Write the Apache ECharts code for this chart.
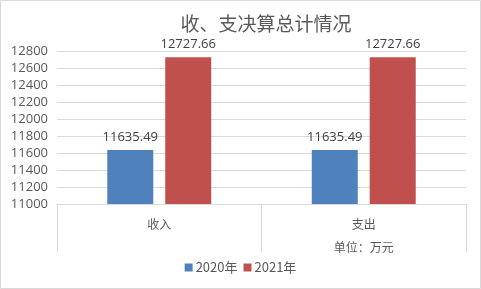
<!DOCTYPE html>
<html><head><meta charset="utf-8">
<script src="https://cdn.jsdelivr.net/npm/echarts@6/dist/echarts.min.js"></script>
<style>html,body{margin:0;padding:0;background:#fff}#c{width:481px;height:289px}</style>
</head><body><div id="c"></div>
<script>
const title = '收、支决算总计情况';
const categories = ['收入', '支出'];
const seriesNames = ['2020年', '2021年'];
const values2020 = [11635.49, 11635.49];
const values2021 = [12727.66, 12727.66];
const yMin = 11000, yMax = 12800, yStep = 200;
const unitNote = '单位：万元';

const font = '"Noto Sans CJK SC","Noto Sans",sans-serif';
const chart = echarts.init(document.getElementById('c'));
chart.setOption({
  animation: false,
  textStyle: {fontFamily: font},
  title: {text: title, left: 261, textAlign: 'center', top: 9,
    textStyle: {fontSize: 19, fontWeight: 'normal', color: '#595959', fontFamily: font}},
  graphic: [{type: 'rect', shape: {x: 0.5, y: 0.5, width: 480, height: 288},
    style: {fill: 'none', stroke: '#d9d9d9', lineWidth: 1}, silent: true}],
  legend: {bottom: 10, left: 'center', itemWidth: 8, itemHeight: 8, itemGap: 6,
    icon: 'rect', textStyle: {fontSize: 13, color: '#595959', padding: [0,0,0,-2]}},
  grid: {left: 57, right: 15, top: 51, bottom: 85},
  xAxis: {type: 'category', data: categories,
    axisLine: {lineStyle: {color: '#d9d9d9'}},
    axisTick: {show: true, length: 48, interval: 0, lineStyle: {color: '#d9d9d9'}},
    axisLabel: {fontSize: 12, color: '#595959', margin: 9, lineHeight: 23,
      formatter: function (v, i) { return i === 1 ? v + '\n' + unitNote : v; }}},
  yAxis: {type: 'value', min: yMin, max: yMax, interval: yStep,
    axisLine: {show: false}, axisTick: {show: false},
    axisLabel: {fontSize: 13, color: '#595959', margin: 9, fontFamily: '"Open Sans",sans-serif',
      formatter: function (v) { return String(v); }},
    splitLine: {lineStyle: {color: '#d9d9d9'}}},
  series: [
    {name: seriesNames[0], type: 'bar', data: values2020, barWidth: 46, barGap: '26%',
      itemStyle: {color: '#4f81bd'},
      label: {show: true, position: 'top', distance: 6, fontSize: 13, color: '#404040', fontFamily: '"Open Sans",sans-serif'}},
    {name: seriesNames[1], type: 'bar', data: values2021, barWidth: 46,
      itemStyle: {color: '#c0504d'},
      label: {show: true, position: 'top', distance: 6, fontSize: 13, color: '#404040', fontFamily: '"Open Sans",sans-serif'}}
  ]
});
</script></body></html>
